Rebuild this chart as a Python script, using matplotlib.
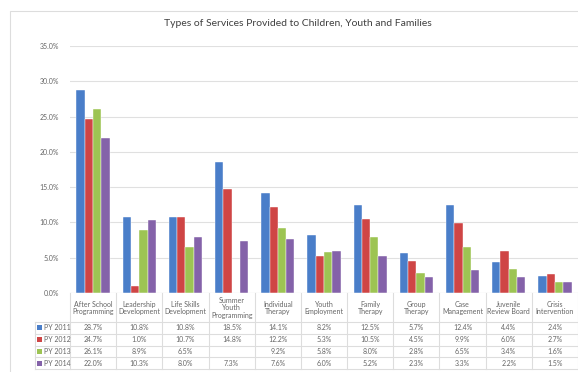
import numpy as np
import matplotlib.pyplot as plt
from matplotlib.patches import Rectangle
from matplotlib.lines import Line2D
import matplotlib.transforms as mtransforms

categories = ["After School\nProgramming", "Leadership\nDevelopment", "Life Skills\nDevelopment",
              "Summer\nYouth\nProgramming", "Individual\nTherapy", "Youth\nEmployment",
              "Family\nTherapy", "Group\nTherapy", "Case\nManagement",
              "Juvenile\nReview Board", "Crisis\nIntervention"]
series_names = ["PY 2011", "PY 2012", "PY 2013", "PY 2014"]
py2011 = [28.7, 10.8, 10.8, 18.5, 14.1, 8.2, 12.5, 5.7, 12.4, 4.4, 2.4]
py2012 = [24.7, 1.0, 10.7, 14.8, 12.2, 5.3, 10.5, 4.5, 9.9, 6.0, 2.7]
py2013 = [26.1, 8.9, 6.5, np.nan, 9.2, 5.8, 8.0, 2.8, 6.5, 3.4, 1.6]
py2014 = [22.0, 10.3, 8.0, 7.3, 7.6, 6.0, 5.2, 2.3, 3.3, 2.2, 1.5]
yticks = [0, 5, 10, 15, 20, 25, 30, 35]

series = [py2011, py2012, py2013, py2014]
colors = ["#4A7EC9", "#CF4545", "#9DC453", "#8462A9"]

plt.rcParams['font.family'] = ['Lato', 'DejaVu Sans']
txt = "#666666"

W, H = 578, 372
fig = plt.figure(figsize=(W / 100, H / 100), dpi=100)

def fy(py):
    return 1 - py / H

def fx(px):
    return px / W

# chart area border
fig.patches.append(Rectangle((fx(10), fy(400)), 1.2, fy(11) - fy(400), transform=fig.transFigure,
                             fill=False, edgecolor="#DDDDDD", linewidth=0.8))

ax = fig.add_axes([fx(70), fy(293), 1 - fx(70), fy(46) - fy(293)])
n = len(categories)
x = np.arange(n)
w = 0.18
for i, (vals, c) in enumerate(zip(series, colors)):
    ax.bar(x + (i - 1.5) * w, vals, w, color=c, edgecolor="white", linewidth=0.3, zorder=3)

ax.set_xlim(-0.5, n - 0.5)
ax.set_ylim(0, 35)
ax.set_yticks(yticks)
ax.set_yticklabels([f"{v:.1f}%" for v in yticks], fontsize=5, color=txt)
ax.set_xticks([])
ax.tick_params(axis='y', length=0, pad=8)
ax.grid(axis='y', color="#E0E0E0", linewidth=0.8, zorder=0)
for s in ax.spines.values():
    s.set_visible(False)
ax.axhline(0, color="#D9D9D9", linewidth=0.8, zorder=4)

fig.text(fx(298), fy(24), "Types of Services Provided to Children, Youth and Families",
         ha='center', va='center', fontsize=7.5, color="#404040")

# data table below the axis
tr = mtransforms.blended_transform_factory(ax.transData, fig.transFigure)
top, head_bot = 293, 322
row_h = 11.8
rows_y = [head_bot + row_h * k for k in range(5)]
line_c = "#DDDDDD"

for b in np.arange(-0.5, n, 1.0):
    fig.lines.append(Line2D([b, b], [fy(top), fy(rows_y[-1])], transform=tr, color=line_c, lw=0.8))
fig.lines.append(Line2D([fx(35), fx(35)], [fy(head_bot), fy(rows_y[-1])],
                        transform=fig.transFigure, color=line_c, lw=0.8))
for yy in rows_y:
    fig.lines.append(Line2D([fx(35), 1], [fy(yy), fy(yy)], transform=fig.transFigure, color=line_c, lw=0.8))

for i, cat in enumerate(categories):
    fig.text(i, fy((top + head_bot) / 2 + 0.5), cat, transform=tr, ha='center', va='center',
             fontsize=5, color=txt, linespacing=1.15)

for r, (name, vals, c) in enumerate(zip(series_names, series, colors)):
    yc = fy(rows_y[r] + row_h / 2)
    fig.patches.append(Rectangle((fx(37), yc - 2.5 / H), 5 / W, 5 / H, transform=fig.transFigure,
                                 facecolor=c, edgecolor='none'))
    fig.text(fx(44), yc, name, ha='left', va='center', fontsize=5, color=txt)
    for i, v in enumerate(vals):
        if not np.isnan(v):
            fig.text(i, yc, f"{v:.1f}%", transform=tr, ha='center', va='center', fontsize=5, color=txt)

fig.savefig("out.png", dpi=100)
